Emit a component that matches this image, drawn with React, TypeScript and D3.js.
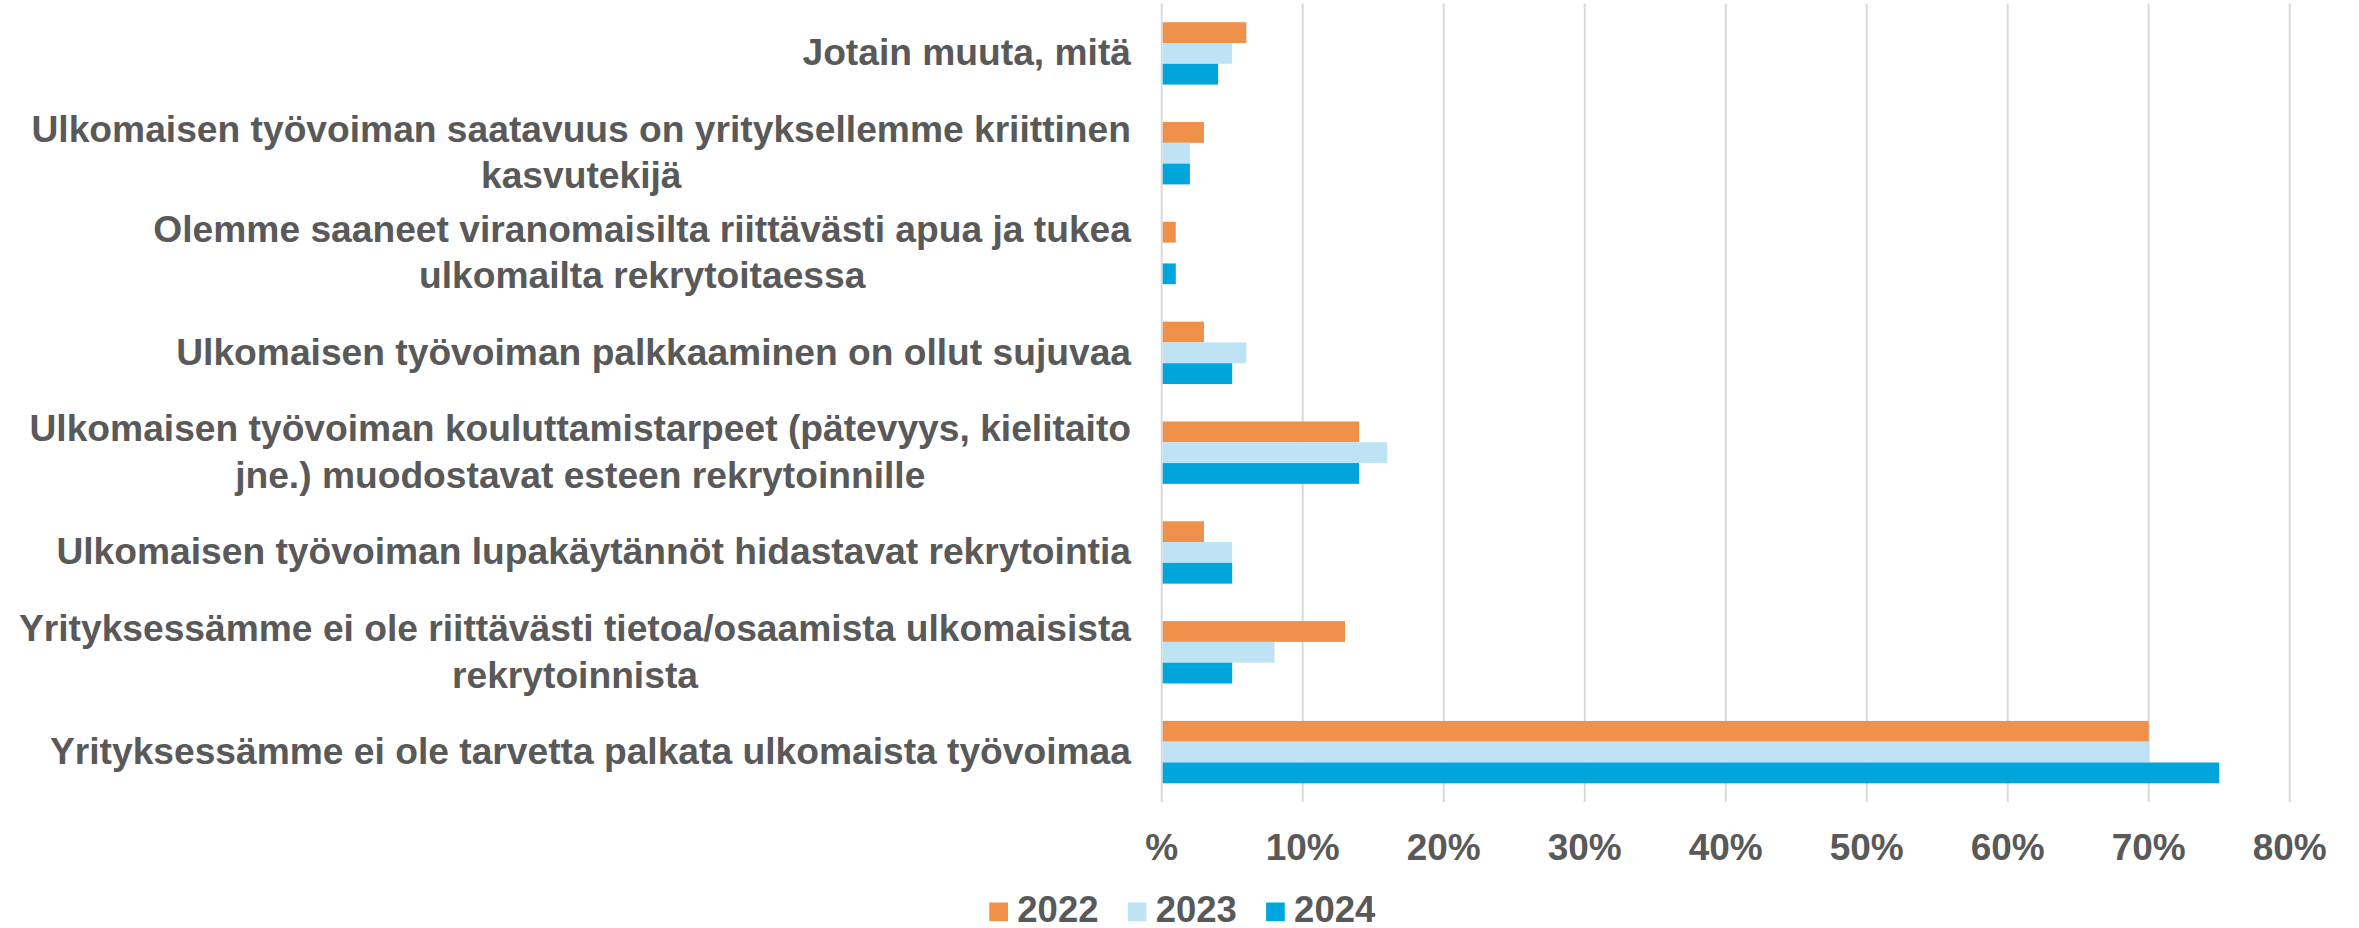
import React from "react";
import * as d3 from "d3";

const categories: string[][] = [
  ["Jotain muuta, mitä"],
  ["Ulkomaisen työvoiman saatavuus on yrityksellemme kriittinen", "kasvutekijä"],
  ["Olemme saaneet viranomaisilta riittävästi apua ja tukea", "ulkomailta rekrytoitaessa"],
  ["Ulkomaisen työvoiman palkkaaminen on ollut sujuvaa"],
  ["Ulkomaisen työvoiman kouluttamistarpeet (pätevyys, kielitaito", "jne.) muodostavat esteen rekrytoinnille"],
  ["Ulkomaisen työvoiman lupakäytännöt hidastavat rekrytointia"],
  ["Yrityksessämme ei ole riittävästi tietoa/osaamista ulkomaisista", "rekrytoinnista"],
  ["Yrityksessämme ei ole tarvetta palkata ulkomaista työvoimaa"],
];
const seriesNames = ["2022", "2023", "2024"];
const values2022 = [6, 3, 1, 3, 14, 3, 13, 70];
const values2023 = [5, 2, 0, 6, 16, 5, 8, 70];
const values2024 = [4, 2, 1, 5, 14, 5, 5, 75];
const tickValues = [0, 10, 20, 30, 40, 50, 60, 70, 80];
const tickLabels = ["%", "10%", "20%", "30%", "40%", "50%", "60%", "70%", "80%"];
const colors = ["#F0914B", "#BEE3F5", "#00A5DB"];

const W = 2359;
const H = 928;
const FONT = "'Liberation Sans', Arial, sans-serif";
const TEXT = "#595959";
const GRID = "#D9D9D9";
const LABEL_SIZE = 37.2;

let ctx: CanvasRenderingContext2D | null = null;
function measure(s: string): number {
  if (!ctx) ctx = document.createElement("canvas").getContext("2d");
  if (!ctx) return s.length * 18;
  ctx.font = `bold ${LABEL_SIZE}px ${FONT}`;
  try {
    (ctx as any).fontKerning = "none";
  } catch (e) {}
  return ctx.measureText(s).width;
}

export default function App() {
  const x = d3.scaleLinear().domain([0, 80]).range([1161.7, 2289.7]);
  const y = d3
    .scaleBand<number>()
    .domain(d3.range(categories.length))
    .range([3.5, 802])
    .paddingInner(0.375)
    .paddingOuter(0.1875);
  const sub = d3.scaleBand<number>().domain([0, 1, 2]).range([0, y.bandwidth()]);
  const series = [values2022, values2023, values2024];
  const labelRight = 1131;
  const lineH = 46.5;
  const textStyle = { fontKerning: "none" as const };

  return (
    <svg
      width={W}
      height={H}
      style={{ position: "absolute", left: 0, top: 0, background: "#fff" }}
      fontFamily={FONT}
      fontWeight="bold"
    >
      <rect x={0} y={0} width={W} height={H} fill="#fff" />
      {tickValues.map((t) => (
        <line
          key={t}
          x1={x(t)}
          x2={x(t)}
          y1={3.5}
          y2={802}
          stroke={GRID}
          strokeWidth={2}
        />
      ))}
      {series.map((vals, si) =>
        vals.map((v, ci) =>
          v > 0 ? (
            <rect
              key={`${si}-${ci}`}
              x={x(0) + 1}
              y={(y(ci) as number) + (sub(si) as number)}
              width={x(v) - x(0) - 1}
              height={sub.bandwidth()}
              fill={colors[si]}
            />
          ) : null
        )
      )}
      {categories.map((lines, ci) => {
        const c = (y(ci) as number) + y.bandwidth() / 2;
        const bw = Math.max(...lines.map(measure));
        const cx = labelRight - bw / 2;
        return lines.map((ln, li) => (
          <text
            key={`${ci}-${li}`}
            x={cx}
            y={c + (li - (lines.length - 1) / 2) * lineH + 12}
            textAnchor="middle"
            fontSize={LABEL_SIZE}
            fill={TEXT}
            style={textStyle}
          >
            {ln}
          </text>
        ));
      })}
      {tickValues.map((t, i) => (
        <text
          key={`t${t}`}
          x={x(t)}
          y={859.5}
          textAnchor="middle"
          fontSize={37}
          fill={TEXT}
          style={textStyle}
        >
          {tickLabels[i]}
        </text>
      ))}
      {seriesNames.map((s, i) => {
        const lx = 989.3 + i * 138.4;
        return (
          <g key={s}>
            <rect x={lx} y={902.5} width={18.7} height={18.7} fill={colors[i]} />
            <text x={lx + 28} y={922} fontSize={36.5} fill={TEXT} style={textStyle}>
              {s}
            </text>
          </g>
        );
      })}
    </svg>
  );
}
